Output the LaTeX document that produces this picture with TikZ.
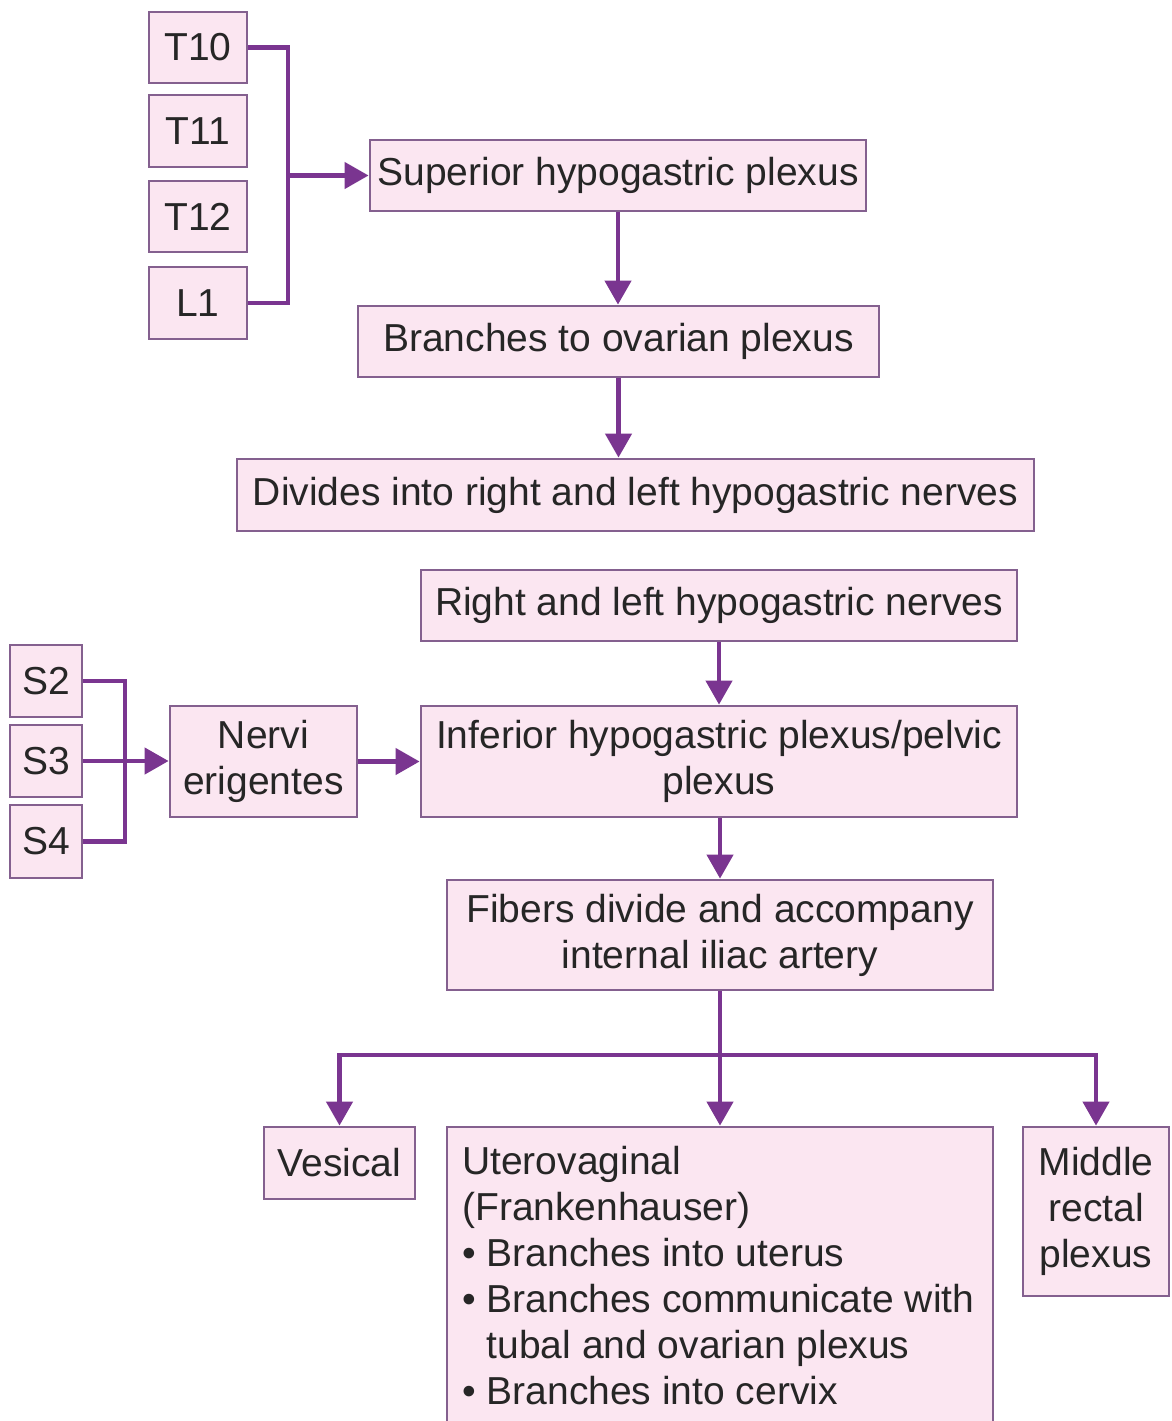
\documentclass[tikz,border=0pt]{standalone}
\usepackage{fontspec}
\setmainfont{Liberation Sans}
\usetikzlibrary{arrows.meta}
\definecolor{boxline}{HTML}{84608F}
\definecolor{boxfill}{HTML}{FBE6F1}
\definecolor{linkc}{HTML}{7A3590}
\definecolor{ink}{HTML}{262626}
\newcommand{\bodyfont}{\fontsize{39}{46}\selectfont}
\begin{document}
\begin{tikzpicture}[x=1pt,y=-1pt,
  box/.style={draw=boxline, line width=2.8pt, fill=boxfill, text=ink,
    inner sep=0pt, align=center, font=\bodyfont},
  txt/.style={text=ink, inner sep=0pt, align=left, font=\bodyfont},
  link/.style={draw=linkc, line width=4.4pt},
  arr/.style={link, -{Triangle[length=24pt,width=26pt]}},
]
\clip (0,0) rectangle (1172,1421);
\fill[white] (0,0) rectangle (1172,1421);

% thoracolumbar roots
\node[box, minimum width=98pt, minimum height=71pt] (T10) at (198,47.5) {T10};
\node[box, minimum width=98pt, minimum height=72pt] (T11) at (198,131) {T11};
\node[box, minimum width=98pt, minimum height=71pt] (T12) at (198,216.5) {T12};
\node[box, minimum width=98pt, minimum height=72pt] (L1) at (198,303) {L1};

% main chain
\node[box, minimum width=496pt, minimum height=71pt] (sup) at (618,175.5) {Superior hypogastric plexus};
\node[box, minimum width=521pt, minimum height=71pt] (br) at (618.5,341.5) {Branches to ovarian plexus};
\node[box, minimum width=797pt, minimum height=72pt] (div) at (635.5,495) {Divides into right and left hypogastric nerves};
\node[box, minimum width=596pt, minimum height=71pt] (rl) at (719,605.5) {Right and left hypogastric nerves};
\node[box, minimum width=596pt, minimum height=111pt] (inf) at (719,761.5) {Inferior hypogastric plexus/pelvic\\plexus};
\node[box, minimum width=546pt, minimum height=110pt] (fib) at (720,935) {Fibers divide and accompany\\internal iliac artery};

% sacral roots
\node[box, minimum width=72pt, minimum height=72pt] (S2) at (46,681) {S2};
\node[box, minimum width=72pt, minimum height=72pt] (S3) at (46,761) {S3};
\node[box, minimum width=72pt, minimum height=73pt] (S4) at (46,841.5) {S4};
\node[box, minimum width=187pt, minimum height=111pt] (ner) at (263.5,761.5) {Nervi\\erigentes};

% terminal plexuses
\node[box, minimum width=151pt, minimum height=72pt] (ves) at (339.5,1163) {Vesical};
\node[box, minimum width=546pt, minimum height=333pt] (ute) at (720,1293.5) {};
\node[txt, anchor=north west] (utxt) at (462,1146) {Uterovaginal\\
  (Frankenhauser)\\
  \textbullet\ Branches into uterus\\
  \textbullet\ Branches communicate with\\
  \hphantom{\textbullet\ }tubal and ovarian plexus\\
  \textbullet\ Branches into cervix};
\node[box, minimum width=146pt, minimum height=169pt] (mid) at (1096,1211.5) {Middle\\rectal\\plexus};

% junction points
\coordinate (tj) at (288,175.5);
\coordinate (sj) at (125,761);
\coordinate (fj) at (720,1055);

% connectors
\draw[link] (T10.east) -| (tj) |- (L1.east);
\draw[arr] (tj) -- (sup.west);
\draw[arr] (sup.south) -- (sup.south |- br.north);
\draw[arr] (br.south) -- (br.south |- div.north);
\draw[arr] (rl.south) -- (inf.north);
\draw[link] (S2.east) -| (sj) |- (S4.east);
\draw[arr] (S3.east) -- (S3.east -| ner.west);
\draw[arr] (ner.east) -- (inf.west);
\draw[arr] (fib.north |- inf.south) -- (fib.north);
\draw[link] (fib.south) -- (fj);
\draw[link, line cap=rect] (ves.north |- fj) -- (mid.north |- fj);
\draw[arr] (ves.north |- fj) -- (ves.north);
\draw[arr] (fj) -- (ute.north);
\draw[arr] (mid.north |- fj) -- (mid.north);
\end{tikzpicture}
\end{document}
